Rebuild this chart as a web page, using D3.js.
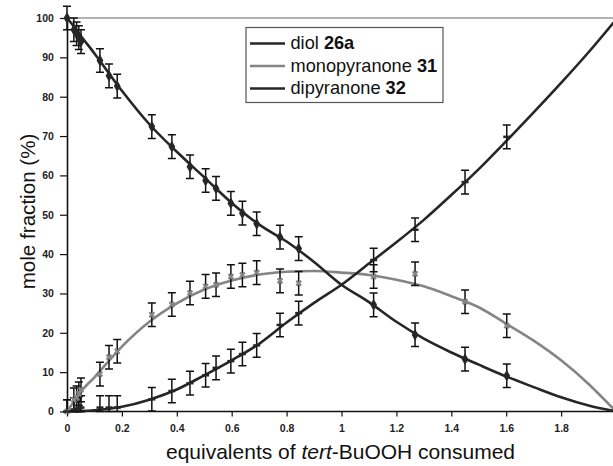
<!DOCTYPE html>
<html><head><meta charset="utf-8">
<script src="https://cdn.jsdelivr.net/npm/d3@7"></script>
<style>body{margin:0;background:#fff}svg{display:block;font-family:"Liberation Sans",Arial,sans-serif}</style>
</head><body>
<script>
// measured points
const xPts = [0, 0.025, 0.035, 0.043, 0.051, 0.12, 0.153, 0.183, 0.309, 0.382, 0.448, 0.505, 0.543, 0.597, 0.639, 0.691, 0.776, 0.844, 1.117, 1.268, 1.45, 1.602];
const diolPts = [100, 97, 96, 95, 94, 89.2, 85.3, 82.7, 72.4, 67.3, 62.2, 58.7, 56.7, 52.9, 50.4, 47.7, 44.3, 41.4, 27.1, 19.5, 13.3, 9.1];
const monoPts = [0, 3, 3.5, 4.5, 5.5, 9.5, 13.8, 15.3, 24.6, 27.2, 30.1, 31.8, 32.2, 34.3, 34.7, 35.3, 33.2, 32.6, 34.3, 35, 27.9, 21.8];
const diPts   = [0, 0.5, 0.5, 0.8, 1, 1, 1, 1, 3.1, 5.2, 7.2, 9.2, 11.1, 12.8, 14.6, 16.8, 22, 25, 38.5, 46.2, 58.3, 69.8];
const errPts = 3;
// fitted curves
const xCurve = [0, 0.02, 0.05, 0.1, 0.2, 0.3, 0.4, 0.5, 0.6, 0.7, 0.8, 0.9, 1.0, 1.1, 1.2, 1.3, 1.4, 1.5, 1.6, 1.7, 1.8, 1.9, 2.0];
const diolCurve = [100, 98.3, 95.5, 91, 81.5, 73, 66, 59.5, 53, 47.5, 43.2, 38, 32.2, 27.8, 22.8, 18.5, 15, 11.9, 8.9, 6.2, 3.6, 1.5, 0];
const monoCurve = [0, 2, 5, 8.7, 16.5, 22.8, 27.5, 31, 33.3, 34.8, 35.5, 35.7, 35.3, 34.7, 33.5, 31.8, 29.3, 26.5, 22.3, 18, 13, 7, 0];
const diCurve   = [0, 0.05, 0.1, 0.3, 1.2, 3, 5.6, 9.2, 13, 17.2, 22.6, 27.6, 32.2, 37.6, 43, 48.7, 55, 61.6, 68.7, 76, 83.5, 91.3, 99.6];
const xTicks = [0, 0.2, 0.4, 0.6, 0.8, 1, 1.2, 1.4, 1.6, 1.8];
const yTicks = [0, 10, 20, 30, 40, 50, 60, 70, 80, 90, 100];
const legendNames = ["diol ", "monopyranone ", "dipyranone "];
const legendBold = ["26a", "31", "32"];
const colDark = "#262626", colGray = "#858585";

const W = 613, H = 466;
const svg = d3.select("body").append("svg").attr("width", W).attr("height", H);
const x = d3.scaleLinear().domain([0, 2]).range([67, 616]);
const y = d3.scaleLinear().domain([0, 100]).range([411.5, 18]);

// top border line
svg.append("line").attr("x1", x(0)).attr("x2", W).attr("y1", y(100)).attr("y2", y(100))
  .attr("stroke", "#999").attr("stroke-width", 1.5);

// axes
const xa = svg.append("g").attr("transform", `translate(0,${y(0)})`)
  .call(d3.axisBottom(x).tickValues(xTicks).tickFormat(d3.format("")).tickSize(5).tickSizeOuter(0));
const ya = svg.append("g").attr("transform", `translate(${x(0)},0)`)
  .call(d3.axisLeft(y).tickValues(yTicks).tickSize(7).tickSizeOuter(0));
[xa, ya].forEach(g => {
  g.select(".domain").attr("stroke", "#111").attr("stroke-width", 1.6);
  g.selectAll(".tick line").attr("stroke", "#111").attr("stroke-width", 1.2);
  g.selectAll("text").attr("font-size", 10.5).attr("font-weight", "bold").attr("fill", "#222")
   .attr("font-family", "'Liberation Sans',Arial,sans-serif");
});
xa.selectAll("text").attr("dy", "1.2em");
ya.selectAll("text").attr("dx", "-0.3em");
xa.select(".domain").attr("d", `M${x(0)},0H${W}`);

// curves
const line = (ys) => d3.line().x((d, i) => x(xCurve[i])).y(d => y(d)).curve(d3.curveMonotoneX)(ys);
svg.append("path").attr("d", line(monoCurve)).attr("fill", "none").attr("stroke", colGray).attr("stroke-width", 2.6);
svg.append("path").attr("d", line(diolCurve)).attr("fill", "none").attr("stroke", colDark).attr("stroke-width", 2.6);
svg.append("path").attr("d", line(diCurve)).attr("fill", "none").attr("stroke", colDark).attr("stroke-width", 2.6);

// error bars
function errBars(vals) {
  const g = svg.append("g").attr("stroke", "#111").attr("stroke-width", 1.5).attr("fill", "none");
  vals.forEach((v, i) => {
    const cx = x(xPts[i]);
    const lo = Math.max(0, v - errPts), hi = v + errPts;
    g.append("path").attr("d",
      `M${cx},${y(lo)}V${y(hi)}M${cx - 4},${y(lo)}H${cx + 4}M${cx - 4},${y(hi)}H${cx + 4}`);
  });
}
errBars(diPts); errBars(monoPts); errBars(diolPts);

// markers
svg.append("g").selectAll("path").data(diolPts).join("path")
  .attr("transform", (d, i) => `translate(${x(xPts[i])},${y(d)})`)
  .attr("d", d3.symbol(d3.symbolDiamond, 40)).attr("fill", colDark);
svg.append("g").selectAll("path").data(monoPts).join("path")
  .attr("transform", (d, i) => `translate(${x(xPts[i])},${y(d)}) rotate(45)`)
  .attr("d", d3.symbol(d3.symbolCross, 26)).attr("fill", colGray);
svg.append("g").selectAll("line").data(diPts).join("line")
  .attr("x1", (d, i) => x(xPts[i]) - 3.5).attr("x2", (d, i) => x(xPts[i]) + 3.5)
  .attr("y1", d => y(d)).attr("y2", d => y(d)).attr("stroke", colDark).attr("stroke-width", 2.5);

// legend
const lg = svg.append("g");
lg.append("rect").attr("x", 246).attr("y", 27.5).attr("width", 197).attr("height", 75)
  .attr("fill", "#fff").attr("stroke", "#555").attr("stroke-width", 1.2);
const cols = [colDark, colGray, colDark];
legendNames.forEach((n, i) => {
  const yy = 43.5 + i * 22.5;
  lg.append("line").attr("x1", 250).attr("x2", 285).attr("y1", yy).attr("y2", yy)
    .attr("stroke", cols[i]).attr("stroke-width", 2.6);
  const t = lg.append("text").attr("x", 290.5).attr("y", yy + 5.8).attr("font-size", 18.2).attr("fill", "#111");
  t.append("tspan").text(n);
  t.append("tspan").attr("font-weight", "bold").text(legendBold[i]);
});

// axis titles
const xt = svg.append("text").attr("x", 340.5).attr("y", 459).attr("text-anchor", "middle")
  .attr("font-size", 21).attr("fill", "#111");
xt.append("tspan").text("equivalents of ");
xt.append("tspan").attr("font-style", "italic").text("tert");
xt.append("tspan").text("-BuOOH consumed");
svg.append("text").attr("transform", "translate(35,211.5) rotate(-90)").attr("text-anchor", "middle")
  .attr("font-size", 20.6).attr("fill", "#111").text("mole fraction (%)");
</script>
</body></html>
